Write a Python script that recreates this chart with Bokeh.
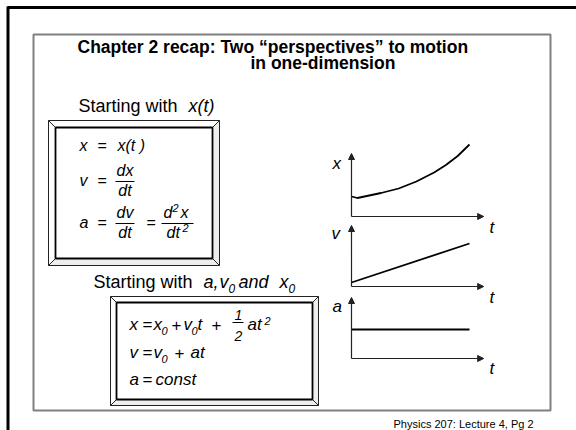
from bokeh.plotting import figure
from bokeh.models import Range1d, Arrow, NormalHead
from bokeh.core.properties import value
from bokeh.embed import file_html
from bokeh.resources import INLINE

# ---- data for the three motion graphs (time in arbitrary units) ----
t_x = [0.0, 0.05, 0.25, 0.4, 0.55, 0.7, 0.8, 0.9, 1.0]
x_vals = [2.0, 1.85, 2.35, 2.8, 3.5, 4.4, 5.15, 6.05, 7.2]
t_v = [0.0, 1.0]
v_vals = [0.4, 4.3]
t_a = [0.0, 1.0]
a_vals = [2.9, 2.9]

title_lines = ["Chapter 2 recap: Two \u201cperspectives\u201d to motion", "in one-dimension"]
footer = "Physics 207: Lecture 4, Pg 2"

W, H = 576, 430
FONT = value("Liberation Sans")

p = figure(width=W, height=H, x_range=Range1d(0, W), y_range=Range1d(H, 0),
           output_backend="svg", toolbar_location=None,
           x_axis_type=None, y_axis_type=None, min_border=0,
           outline_line_color=None, background_fill_color="white")
p.grid.visible = False


def txt(x, y, s, size, style="normal", color="black", align="left"):
    # y is the baseline; the glyph is anchored at its vertical centre
    p.text(x=[x], y=[y - 0.35 * size], text=[s], text_font=FONT,
           text_font_size=f"{size}px", text_font_style=style, text_color=color,
           text_align=align, text_baseline="middle")


def frac(x0, x1, y, num, den, size=16):
    cx = (x0 + x1) / 2
    p.segment(x0=[x0], y0=[y], x1=[x1], y1=[y], line_color="black", line_width=1)
    if num:
        txt(cx, y - 5, num, size, "italic", align="center")
    if den:
        txt(cx, y + 15, den, size, "italic", align="center")


def bevel(x0, y0, x1, y1, w):
    ix0, iy0, ix1, iy1 = x0 + w, y0 + w, x1 - w, y1 - w
    # light faces (top, left) and shaded faces (bottom, right)
    p.patches(xs=[[x0, x1, ix1, ix0], [x0, ix0, ix0, x0]],
              ys=[[y0, y0, iy0, iy0], [y0, iy0, iy1, y1]],
              fill_color="white", line_color=None)
    p.patches(xs=[[x0, ix0, ix1, x1], [x1, x1, ix1, ix1]],
              ys=[[y1, iy1, iy1, y1], [y0, y1, iy1, iy0]],
              fill_color="#eeeeee", line_color=None)
    p.quad(left=[x0], right=[x1], top=[y0], bottom=[y1], fill_color=None,
           line_color="#222222", line_width=1)
    p.quad(left=[ix0], right=[ix1], top=[iy0], bottom=[iy1], fill_color="white",
           line_color="black", line_width=1.8)
    p.segment(x0=[x0, x1, x0, x1], y0=[y0, y0, y1, y1],
              x1=[ix0, ix1, ix0, ix1], y1=[iy0, iy0, iy1, iy1],
              line_color="#222222", line_width=1)


# ---- slide frame ----
p.segment(x0=[7], y0=[7], x1=[W], y1=[7], line_color="black", line_width=3)
p.segment(x0=[7.5], y0=[6], x1=[7.5], y1=[H], line_color="black", line_width=3)
p.quad(left=[33], right=[550], top=[34], bottom=[410], fill_color=None,
       line_color="#808080", line_width=2)

# ---- title ----
txt(77, 53, title_lines[0], 17.5, "bold")
txt(250, 69, title_lines[1], 17.5, "bold")

# ---- first perspective: start from x(t) ----
txt(78, 112, "Starting with", 18)
txt(188, 112, "x(t)", 18, "italic")
bevel(48, 120, 219, 265, 7)

txt(79, 151, "x", 16, "italic")
txt(97, 151, "=", 16)
txt(117, 151, "x(t )", 16, "italic")

txt(79, 186, "v", 16, "italic")
txt(97, 186, "=", 16)
frac(115, 134, 181, "dx", "dt")

txt(79, 228, "a", 16, "italic")
txt(97, 228, "=", 16)
frac(115, 134, 223, "dv", "dt")
txt(146, 228, "=", 16)
frac(161, 193, 223, "", "")
txt(163, 218, "d", 16, "italic")
txt(172, 211, "2", 11, "italic")
txt(180, 218, "x", 16, "italic")
txt(166, 238, "dt", 16, "italic")
txt(182, 231, "2", 11, "italic")

# ---- second perspective: start from a, v0, x0 ----
txt(93, 288, "Starting with", 18)
txt(203, 288, "a,", 18, "italic")
txt(219, 288, "v", 18, "italic")
txt(228, 292, "0", 12, "italic")
txt(238, 288, "and", 18, "italic")
txt(279, 288, "x", 18, "italic")
txt(288, 292, "0", 12, "italic")
bevel(110, 296, 318, 405, 6)

txt(129, 330, "x", 17, "italic")
txt(142, 330, "=", 17)
txt(153, 330, "x", 17, "italic")
txt(161, 334, "0", 11, "italic")
txt(171, 330, "+", 17)
txt(183, 330, "v", 17, "italic")
txt(191, 334, "0", 11, "italic")
txt(197, 330, "t", 17, "italic")
txt(211, 330, "+", 17)
p.segment(x0=[232], y0=[322], x1=[243], y1=[322], line_color="black", line_width=1)
txt(238, 319, "1", 14, "italic", align="center")
txt(238, 340, "2", 14, "italic", align="center")
txt(247, 330, "at", 17, "italic")
txt(264, 324, "2", 11, "italic")

txt(129, 358, "v", 17, "italic")
txt(142, 358, "=", 17)
txt(153, 358, "v", 17, "italic")
txt(161, 362, "0", 11, "italic")
txt(174, 358, "+", 17)
txt(190, 358, "at", 17, "italic")

txt(129, 385, "a", 17, "italic")
txt(142, 385, "=", 17)
txt(155, 385, "const", 17, "italic")

# ---- motion graphs: each panel gets its own scales ----
T0_PX, T_SCALE = 351, 118.0   # pixel of t = 0, pixels per time unit
Q_SCALE = 10.0                # pixels per quantity unit
T_END = 1.12                  # length of the time axis
panels = [
    ("x", 216, 6.3, t_x, x_vals, 332, 169, 233),
    ("v", 286, 6.1, t_v, v_vals, 331, 239, 303),
    ("a", 358, 6.1, t_a, a_vals, 332, 312, 374),
]
xr, yr = {}, {}
for name, axis_px, *_ in panels:
    xr[name] = Range1d(start=(0 - T0_PX) / T_SCALE, end=(W - T0_PX) / T_SCALE)
    yr[name] = Range1d(start=(axis_px - H) / Q_SCALE, end=axis_px / Q_SCALE)
p.extra_x_ranges = xr
p.extra_y_ranges = yr

for name, axis_px, top, ts, vals, lx, ly, tly in panels:
    for xe, ye in [(T_END, 0), (0, top)]:
        p.add_layout(Arrow(end=NormalHead(size=6, fill_color="#222222", line_color="#222222"),
                           x_start=0, y_start=0, x_end=xe, y_end=ye,
                           x_range_name=name, y_range_name=name,
                           line_color="#222222", line_width=1.2))
    p.line(ts, vals, x_range_name=name, y_range_name=name,
           line_color="black", line_width=1.8)
    txt(lx, ly, name, 17, "italic")
    txt(489, tly, "t", 17, "italic")

# ---- footer ----
txt(393, 427, footer, 11)

open("out.html", "w").write(file_html(p, INLINE))
